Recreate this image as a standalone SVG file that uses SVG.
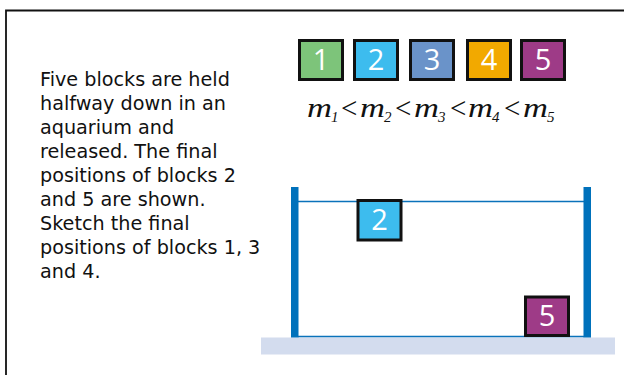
<svg xmlns="http://www.w3.org/2000/svg" width="624" height="375" viewBox="0 0 624 375">
<style>
.blk{stroke:#111;stroke-width:3}
.num{font-family:"Open Sans","Noto Sans",sans-serif;font-size:29px;fill:#fff;text-anchor:middle}
.body{font-family:"DejaVu Sans","Open Sans",sans-serif;font-size:19.2px;fill:#111}
.m{font-family:"Liberation Serif","Times New Roman",serif;font-style:italic;font-size:28px;fill:#111}
.sub{font-family:"Liberation Serif","Times New Roman",serif;font-style:italic;font-size:15px;fill:#111}
.lt{font-family:"Liberation Serif","Times New Roman",serif;font-size:29px;fill:#111}
.wall{fill:#0071bb}
</style>
<rect width="624" height="375" fill="#fff"/>
<path d="M6,375 V10.5 H624" fill="none" stroke="#111" stroke-width="1.8"/>
<g id="problem-text" class="body">
<text x="40" y="85.5">Five blocks are held</text>
<text x="40" y="109.5">halfway down in an</text>
<text x="40" y="133.5">aquarium and</text>
<text x="40" y="157.5">released. The final</text>
<text x="40" y="181.5">positions of blocks 2</text>
<text x="40" y="205.5">and 5 are shown.</text>
<text x="40" y="229.5">Sketch the final</text>
<text x="40" y="253.5">positions of blocks 1, 3</text>
<text x="40" y="277.5">and 4.</text>
</g>
<g id="legend-block-1"><rect class="blk" x="299.5" y="40.5" width="43" height="39" fill="#7dc47a"/><text class="num" x="321" y="70">1</text></g>
<g id="legend-block-2"><rect class="blk" x="354.5" y="40.5" width="43" height="39" fill="#3dbcee"/><text class="num" x="376" y="70">2</text></g>
<g id="legend-block-3"><rect class="blk" x="410.5" y="40.5" width="43" height="39" fill="#6a93c9"/><text class="num" x="432" y="70">3</text></g>
<g id="legend-block-4"><rect class="blk" x="467.5" y="40.5" width="43" height="39" fill="#f2a900"/><text class="num" x="489" y="70">4</text></g>
<g id="legend-block-5"><rect class="blk" x="521.5" y="40.5" width="43" height="39" fill="#9e3b87"/><text class="num" x="543" y="70">5</text></g>
<g id="mass-relation">
<text class="m" x="307" y="117" textLength="25" lengthAdjust="spacingAndGlyphs">m</text>
<text class="sub" x="331" y="122">1</text>
<text class="lt" x="341" y="117.5">&lt;</text>
<text class="m" x="360" y="117" textLength="25" lengthAdjust="spacingAndGlyphs">m</text>
<text class="sub" x="384" y="122">2</text>
<text class="lt" x="395" y="117.5">&lt;</text>
<text class="m" x="414" y="117" textLength="25" lengthAdjust="spacingAndGlyphs">m</text>
<text class="sub" x="438" y="122">3</text>
<text class="lt" x="450" y="117.5">&lt;</text>
<text class="m" x="468" y="117" textLength="25" lengthAdjust="spacingAndGlyphs">m</text>
<text class="sub" x="492" y="122">4</text>
<text class="lt" x="504" y="117.5">&lt;</text>
<text class="m" x="523" y="117" textLength="25" lengthAdjust="spacingAndGlyphs">m</text>
<text class="sub" x="547" y="122">5</text>
</g>
<g id="aquarium">
<rect x="261" y="337.5" width="354" height="17" fill="#d3dcee"/>
<line x1="298" y1="201.5" x2="584" y2="201.5" stroke="#0a72ba" stroke-width="1.3"/>
<line x1="298" y1="336.5" x2="584" y2="336.5" stroke="#0a72ba" stroke-width="1.3"/>
<rect class="wall" x="291" y="187" width="7.5" height="150.5"/>
<rect class="wall" x="583.5" y="187" width="7.5" height="150.5"/>
</g>
<g id="tank-block-2"><rect class="blk" x="358" y="200.5" width="43" height="39.5" fill="#3dbcee"/><text class="num" x="379.5" y="230">2</text></g>
<g id="tank-block-5"><rect class="blk" x="525.5" y="297" width="43" height="38.5" fill="#9e3b87"/><text class="num" x="547" y="326">5</text></g>
</svg>
